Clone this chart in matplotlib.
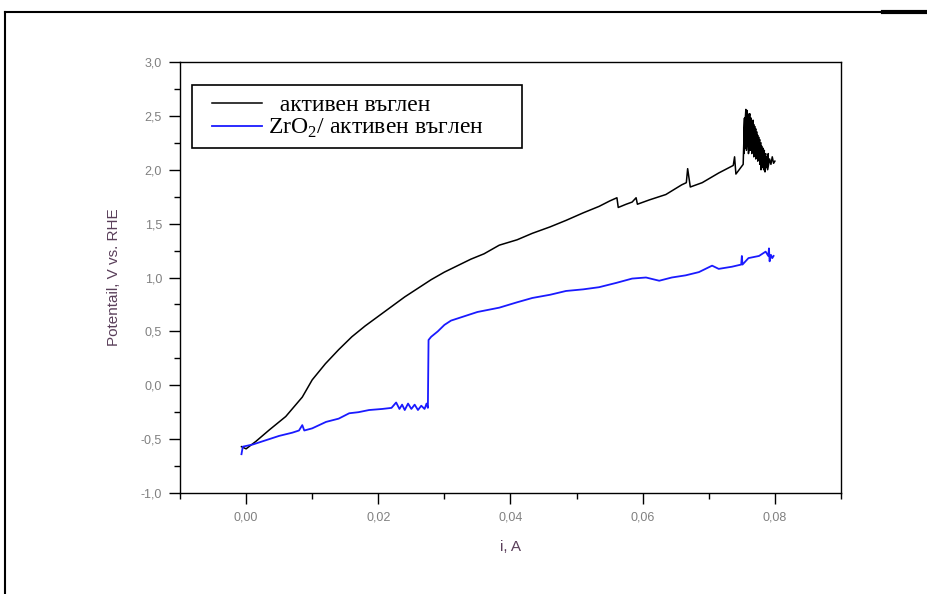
import matplotlib
matplotlib.use("Agg")
import matplotlib.pyplot as plt
from matplotlib.lines import Line2D
from matplotlib.patches import Rectangle
from matplotlib.ticker import MultipleLocator, FuncFormatter

# активен въглен (black)
carbon_i = [-0.0007, 0.0000, 0.0015, 0.0035, 0.0060, 0.0085, 0.0100, 0.0120, 0.0140,
            0.0160, 0.0180, 0.0200, 0.0220, 0.0240, 0.0260, 0.0280, 0.0300, 0.0320,
            0.0340, 0.0360, 0.0383, 0.0410, 0.0433, 0.0460, 0.0484, 0.0510, 0.0534,
            0.0550, 0.0561, 0.0563, 0.0575, 0.0584, 0.0590, 0.0592, 0.0610, 0.0635,
            0.0659, 0.0666, 0.0668, 0.0672, 0.0690, 0.0715, 0.0737, 0.0739, 0.0741,
            0.0752, 0.0754, 0.0753, 0.0756, 0.0755, 0.0758, 0.0756, 0.0759, 0.0757,
            0.0761, 0.0759, 0.0762, 0.0760, 0.0764, 0.0762, 0.0765, 0.0763, 0.0767,
            0.0765, 0.0768, 0.0766, 0.0770, 0.0768, 0.0771, 0.0769, 0.0773, 0.0771,
            0.0774, 0.0772, 0.0776, 0.0774, 0.0777, 0.0775, 0.0779, 0.0777, 0.0780,
            0.0779, 0.0782, 0.0781, 0.0784, 0.0783, 0.0786, 0.0785, 0.0788, 0.0787,
            0.0790, 0.0789, 0.0792, 0.0794, 0.0796, 0.0798, 0.0800]
carbon_v = [-0.57, -0.59, -0.52, -0.415, -0.29, -0.11, 0.05, 0.20, 0.33,
            0.45, 0.55, 0.64, 0.73, 0.82, 0.90, 0.98, 1.05, 1.11,
            1.17, 1.22, 1.30, 1.35, 1.41, 1.47, 1.53, 1.60, 1.66,
            1.71, 1.74, 1.65, 1.68, 1.70, 1.74, 1.68, 1.72, 1.77,
            1.86, 1.88, 2.01, 1.84, 1.88, 1.97, 2.04, 2.12, 1.96,
            2.05, 2.48, 2.15, 2.56, 2.20, 2.55, 2.25, 2.52, 2.18,
            2.50, 2.22, 2.52, 2.15, 2.48, 2.20, 2.45, 2.18, 2.46,
            2.15, 2.42, 2.20, 2.40, 2.12, 2.38, 2.18, 2.35, 2.10,
            2.32, 2.15, 2.30, 2.08, 2.28, 2.12, 2.25, 2.05, 2.22,
            2.00, 2.20, 2.02, 2.18, 2.00, 2.15, 1.98, 2.12, 2.02,
            2.15, 2.00, 2.10, 2.05, 2.12, 2.06, 2.08]

# ZrO2/ активен въглен (blue)
zro2_i = [-0.0007, -0.0005, 0.0010, 0.0030, 0.0050, 0.0070, 0.0080, 0.0085, 0.0088,
          0.0100, 0.0121, 0.0140, 0.0156, 0.0170, 0.0186, 0.0206, 0.0220, 0.0227,
          0.0232, 0.0236, 0.0240, 0.0245, 0.0250, 0.0255, 0.0260, 0.0265, 0.0270,
          0.0273, 0.0275, 0.0276, 0.0280, 0.0290, 0.0300, 0.0310, 0.0330, 0.0350,
          0.0383, 0.0410, 0.0433, 0.0460, 0.0484, 0.0510, 0.0534, 0.0560, 0.0584,
          0.0605, 0.0625, 0.0644, 0.0665, 0.0685, 0.0705, 0.0715, 0.0735, 0.0749,
          0.0750, 0.0751, 0.0760, 0.0776, 0.0786, 0.0790, 0.0791, 0.0792, 0.0794,
          0.0796, 0.0798]
zro2_v = [-0.64, -0.57, -0.55, -0.51, -0.47, -0.44, -0.42, -0.37, -0.42,
          -0.40, -0.34, -0.31, -0.26, -0.25, -0.23, -0.22, -0.21, -0.16,
          -0.22, -0.18, -0.23, -0.17, -0.22, -0.18, -0.23, -0.19, -0.22,
          -0.17, -0.21, 0.42, 0.45, 0.50, 0.56, 0.60, 0.64, 0.68,
          0.72, 0.77, 0.81, 0.84, 0.875, 0.89, 0.91, 0.95, 0.99,
          1.00, 0.97, 1.00, 1.02, 1.05, 1.11, 1.08, 1.10, 1.12,
          1.20, 1.12, 1.18, 1.20, 1.24, 1.20, 1.27, 1.15, 1.21,
          1.18, 1.20]

x_label = "i, A"
y_label = "Potentail, V vs. RHE"
labels = ["  активен въглен", "ZrO$_2$/ активен въглен"]

plt.rcParams["mathtext.fontset"] = "custom"
plt.rcParams["mathtext.rm"] = "Liberation Serif"

fig = plt.figure(figsize=(9.28, 5.94), dpi=100)
ax = fig.add_axes([180 / 928, 1 - 493 / 594, 661 / 928, 431 / 594])

ax.plot(carbon_i, carbon_v, color="black", lw=1.1, label=labels[0])
ax.plot(zro2_i, zro2_v, color="#1a1aff", lw=1.3, label=labels[1])

ax.set_xlim(-0.01, 0.09)
ax.set_ylim(-1.0, 3.0)
ax.xaxis.set_major_locator(MultipleLocator(0.02))
ax.xaxis.set_minor_locator(MultipleLocator(0.01))
ax.yaxis.set_major_locator(MultipleLocator(0.5))
ax.yaxis.set_minor_locator(MultipleLocator(0.25))
ax.xaxis.set_major_formatter(FuncFormatter(lambda v, p: f"{v:.2f}".replace(".", ",").replace("-0,00", "0,00")))
ax.yaxis.set_major_formatter(FuncFormatter(lambda v, p: f"{v:.1f}".replace(".", ",").replace("-0,0", "0,0")))

ax.tick_params(which="both", direction="out", top=False, right=False,
               labelsize=9, labelcolor="#808080", width=1.0, color="black")
ax.tick_params(which="major", length=8, pad=5)
ax.tick_params(which="minor", length=4)
for s in ax.spines.values():
    s.set_linewidth(1.0)

lab_font = {"family": "Liberation Sans", "size": 11, "color": "#5a3f5a"}
ax.set_xlabel(x_label, fontdict=lab_font, labelpad=12)
ax.set_ylabel(y_label, fontdict=lab_font, labelpad=14)
for t in ax.get_xticklabels() + ax.get_yticklabels():
    t.set_family("Liberation Sans")

# legend entries without frame, box drawn separately
leg = ax.legend(loc="upper left", bbox_to_anchor=(0.0484, 0.925),
                borderaxespad=0, borderpad=0, frameon=False,
                prop={"family": "Liberation Serif", "size": 17},
                handlelength=2.12, handletextpad=0.25, labelspacing=0.05)
ax.add_patch(Rectangle((0.01815, 0.8005), 0.4992, 0.1462, transform=ax.transAxes,
                       fill=False, edgecolor="black", lw=1.2, zorder=5))

# outer frame of the figure cell
fig.add_artist(Line2D([5 / 928, 1.0], [1 - 12 / 594, 1 - 12 / 594], color="black", lw=1.5))
fig.add_artist(Line2D([883 / 928, 1.0], [1 - 12 / 594, 1 - 12 / 594], color="black", lw=3))
fig.add_artist(Line2D([5 / 928, 5 / 928], [0, 1 - 12 / 594], color="black", lw=1.5))

fig.savefig("out.png", dpi=100)
